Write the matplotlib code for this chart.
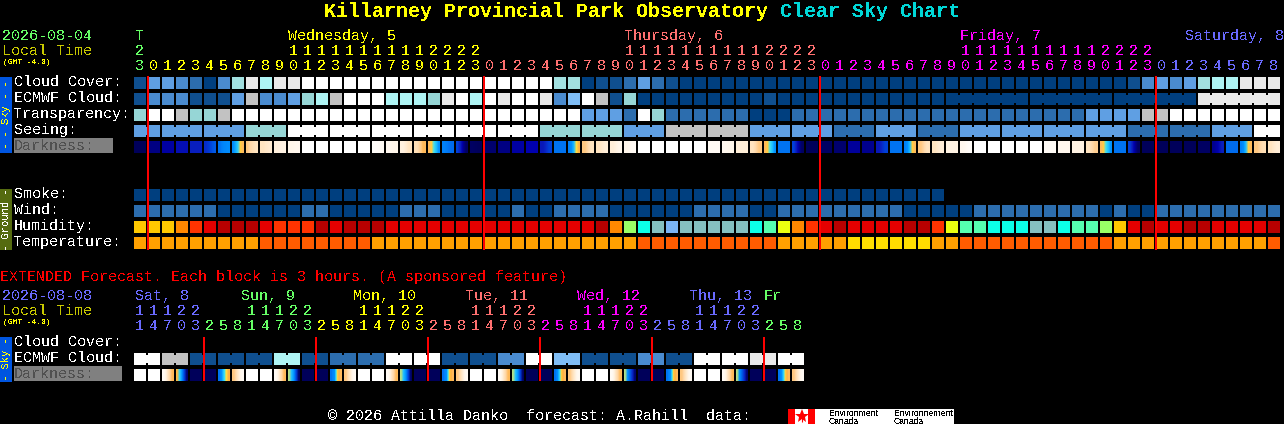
import numpy as np
import matplotlib
matplotlib.use('Agg')
import matplotlib.pyplot as plt
from matplotlib.colors import LinearSegmentedColormap

plt.rcParams['text.antialiased'] = False

# Sky condition colours (index = level used in the lists below)
sky_colors = ['#003f7f', '#0f4f8f', '#2c6dae', '#4a8bcf', '#5f9fe3', '#7fbdf5',
              '#96d6d6', '#a2e0e0', '#c2c2c2', '#e9e9e9', '#ffffff', '#aef4f4']
ground_colors = {'a': '#ffc800', 'b': '#ff8800', 'c': '#ff3300', 'd': '#e40000',
                 'e': '#b80000', 'f': '#ebff10', 'g': '#99ff66', 'h': '#0cffe8',
                 'i': '#55ffb0', 'j': '#85c0c0', 'k': '#7ab4f5',
                 'o': '#ffa000', 'p': '#ff5c00', 'q': '#ffdd00'}

main_hours = [23,
              0, 1, 2, 3, 4, 5, 6, 7, 8, 9, 10, 11, 12, 13, 14, 15, 16, 17, 18, 19, 20, 21, 22, 23,
              0, 1, 2, 3, 4, 5, 6, 7, 8, 9, 10, 11, 12, 13, 14, 15, 16, 17, 18, 19, 20, 21, 22, 23,
              0, 1, 2, 3, 4, 5, 6, 7, 8, 9, 10, 11, 12, 13, 14, 15, 16, 17, 18, 19, 20, 21, 22, 23,
              0, 1, 2, 3, 4, 5, 6, 7, 8]
main_days = ['T', 'Wednesday, 5', 'Thursday, 6', 'Friday, 7', 'Saturday, 8']
main_day_colors = ['#66ff66', '#ffff00', '#ff7070', '#ff00ff', '#6a6aff']

cloud_cover = [1, 4, 4, 3, 2, 0, 3, 7, 9, 11,
               9, 9, 10, 10, 10, 10, 10, 10, 10, 10,
               10, 10, 10, 10, 10, 10, 10, 10, 10, 10,
               7, 7, 0, 1, 1, 2, 4, 2, 1, 0,
               0, 0, 0, 0, 0, 0, 0, 0, 0, 0,
               0, 0, 0, 0, 0, 0, 0, 0, 0, 0,
               0, 0, 0, 0, 0, 0, 0, 0, 0, 0,
               0, 1, 3, 4, 3, 4, 7, 11, 11, 9,
               9, 9]
# hourly first, then the longer ECMWF periods
ecmwf_cloud = [1, 3, 3, 3, 1, 1, 1, 4, 8, 3,
               3, 4, 6, 11, 8, 10, 10, 10, 11, 11,
               11, 6, 9, 10, 11, 10, 9, 10, 10, 9,
               3, 5, 10, 8, 1, 6, 0, 0, 0, 0,
               0, 0, 0, 0, 0, 1, 0, 0, 0, 0,
               0, 0, 0, 0, 0, 0, 0, 0,
               0, 0, 0, 9]
ecmwf_spans = [1] * 58 + [6, 6, 6, 6]
transparency = [6, 10, 10, 8, 6, 6, 8, 10, 10, 10,
                10, 10, 10, 10, 10, 10, 10, 10, 10, 10,
                10, 10, 10, 10, 10, 10, 10, 10, 10, 10,
                10, 10, 4, 4, 4, 2, 10, 6, 2, 2,
                2, 2, 2, 2, 0, 0, 0, 2, 2, 2,
                2, 2, 2, 2, 2, 2, 2, 2, 2, 2,
                2, 2, 2, 2, 2, 2, 2, 2, 4, 4,
                4, 4, 8, 8, 10, 10, 10, 10, 10, 10,
                10, 10]
seeing = [4, 4, 4, 6, 10, 10, 10, 10, 10, 10, 6, 6, 4, 8, 8, 4, 4, 2, 4, 2, 4, 4, 4, 4, 2, 2, 4, 10]
seeing_spans = [2] + [3] * 26 + [2]
# darkness: values along each block, 0 is daylight and 1 is full dark
darkness = [[1.0], [.92], [.87], [.82], [.78], [.74, .70, .66], [.62, .58, .56], [.56, .52, .48, .38, .33],
            [.30, .25, .22, .20], [.20, .17], [.14, .12], [.10, .08],
            [0], [0], [0], [0], [0], [.03, .05], [.08, .10], [.13, .20], [.22, .33],
            [.33, .38, .45, .50, .55], [.60, .63], [.70, .78, .90, .98], [.98, 1.0],
            [.95], [.92], [.87], [.85], [.80, .70], [.62], [.60, .55, .50, .40, .35],
            [.30, .20], [.20, .15], [.15, .10], [.10, .05],
            [0], [0], [0], [0], [0], [.05], [.08, .10], [.15], [.20, .30],
            [.33, .38, .45, .50, .55], [.62], [.70, .85, .98], [1.0], [.98], [.95], [.88],
            [.90], [.80, .70], [.62], [.60, .55, .50, .38, .33], [.30, .20], [.20, .15], [.12], [.08, .03],
            [0], [0], [0], [0], [0], [.04], [.08], [.12], [.20, .28],
            [.33, .38, .45, .50, .55], [.62], [.70, .85, .98], [1.0], [1.0], [1.0], [1.0], [.98],
            [.90, .85, .78], [.63], [.60, .55, .50, .38, .33], [.30, .22], [.20, .15]]
smoke = [0] * 58
wind = [2, 2, 2, 2, 2, 2, 0, 0, 0, 0,
        0, 0, 2, 2, 0, 0, 0, 0, 0, 2,
        2, 2, 0, 0, 0, 0, 0, 2, 0, 0,
        2, 2, 2, 2, 0, 0, 0, 0, 0, 0,
        2, 2, 2, 2, 0, 0, 2, 2, 2, 2,
        2, 2, 2, 2, 2, 0, 0, 0, 0, 0,
        2, 2, 2, 2, 2, 2, 2, 2, 2, 0,
        2, 0, 0, 2, 2, 2, 2, 2, 2, 2,
        2, 2]
humidity = list('aaabcdeeed' 'cccedeeedd' 'dddddddddd' 'dddebghjkj' 'jjjjhifbcd'
                'eddddeecfi' 'ihhhjjhiig' 'adeddeeddd' 'de')
temperature = list('ooooooooop' 'pppppppooo' 'oooooooooo' 'oooooopppp' 'ppppppoooo'
                   'oqqqqqqoop' 'pppppppppp' 'oooooooooo' 'op')

# Extended forecast, one block is 3 hours
ext_hours = [11, 14, 17, 20, 23,
             2, 5, 8, 11, 14, 17, 20, 23,
             2, 5, 8, 11, 14, 17, 20, 23,
             2, 5, 8, 11, 14, 17, 20, 23,
             2, 5, 8, 11, 14, 17, 20, 23,
             2, 5, 8, 11, 14, 17, 20, 23,
             2, 5, 8]
ext_days = ['Sat, 8', 'Sun, 9', 'Mon, 10', 'Tue, 11', 'Wed, 12', 'Thu, 13', 'Fr']
ext_day_colors = ['#6a6aff', '#66ff66', '#ffff00', '#ff7070', '#ff00ff', '#6a6aff', '#66ff66']
ext_cloud = [10, 8, 1, 1, 1, 11, 1, 2, 2, 10, 10, 1, 1, 3, 10, 5, 1, 1, 3, 1, 10, 10, 9, 10]
ext_spans = [2] * 24
ext_darkness = [[0], [0], [.05, .2, .33], [.36, .47, .55, .7, .95], [1.0], [1.0], [.62, .52, .42, .35], [.3, .18, .06],
                [0], [0], [.05, .2, .33], [.42, .5, .55, .7, .98], [1.0], [1.0], [.62, .55, .38, .33], [.3, .18, .06],
                [0], [0], [.05, .2, .33], [.42, .5, .55, .7, .98], [1.0], [1.0], [.62, .55, .38, .33], [.3, .18, .06],
                [0], [0], [.05, .2, .33], [.42, .5, .55, .7, .98], [1.0], [1.0], [.62, .52, .38, .33], [.3, .18, .06],
                [0], [0], [.05, .2, .33], [.42, .55, .65, .75, .95], [1.0], [1.0], [.62, .55, .38, .33], [.3, .18, .06],
                [0], [0], [.05, .2, .33], [.42, .55, .65, .75, .95], [1.0], [1.0], [.62, .52, .38, .33], [.3, .18, .06]]

dark_cmap = LinearSegmentedColormap.from_list('darkness', [
    (0, '#ffffff'), (.05, '#fffaf4'), (.10, '#fff6ea'), (.15, '#ffeed8'), (.20, '#ffe4c0'),
    (.25, '#ffd8a8'), (.30, '#ffc880'), (.35, '#ffb040'), (.40, '#ffe040'), (.45, '#40e0f0'),
    (.50, '#20c0ff'), (.55, '#0090ff'), (.60, '#0080f8'), (.65, '#0060e8'), (.70, '#0040d8'),
    (.75, '#0828c8'), (.80, '#0818b8'), (.85, '#0000b0'), (.90, '#000090'), (.95, '#000070'),
    (1, '#00005a')])

MONO = 'Liberation Mono'
X0, STEP, BLOCK = 134, 14, 12

fig = plt.figure(figsize=(12.84, 4.24), dpi=100, facecolor='black')
ax = fig.add_axes([0, 0, 1, 1])
ax.set_xlim(0, 1284)
ax.set_ylim(424, 0)
ax.axis('off')


def label(x, y, s, color='white', size=10.8, **kw):
    ax.text(x, y, s, color=color, fontsize=size, family=MONO, va='baseline', **kw)


def blocks(top, colors, spans=None):
    # one square per column, columns of the same period are joined by a bridge
    if spans is None:
        spans = [1] * len(colors)
    i = 0
    for color, span in zip(colors, spans):
        xs = X0 + STEP * (i + np.arange(span))
        ax.bar(xs, [BLOCK] * span, width=BLOCK, bottom=top, color=color, align='edge',
               linewidth=0, antialiased=False)
        if span > 1:
            ax.bar(xs[:-1] + BLOCK, [BLOCK - 4] * (span - 1), width=STEP - BLOCK, bottom=top + 2,
                   color=color, align='edge', linewidth=0, antialiased=False)
        i += span


def dark_blocks(top, rows):
    for i, vals in enumerate(rows):
        x = X0 + STEP * i
        ax.imshow([vals], extent=(x, x + BLOCK, top + BLOCK, top), cmap=dark_cmap, vmin=0, vmax=1,
                  aspect='auto', interpolation='bilinear')


def hour_labels(hours, day_colors, y_tens, y_ones):
    day = 0
    for i, h in enumerate(hours):
        if i > 0 and h < hours[i - 1]:
            day += 1
        x = X0 + STEP * i + BLOCK / 2 - 0.5
        if h >= 10:
            label(x, y_tens, str(h // 10), day_colors[day], ha='center')
        label(x, y_ones, str(h % 10), day_colors[day], ha='center')


def sky(levels):
    return [sky_colors[v] for v in levels]


def ground(keys):
    return [ground_colors[k] for k in keys]


# title
label(324, 17, 'Killarney Provincial Park Observatory', '#ffff00', size=14.4, fontweight='bold')
label(780, 17, 'Clear Sky Chart', '#00d8d8', size=14.4, fontweight='bold')

# header of the main chart
label(2, 40, '2026-08-04', main_day_colors[0])
label(2, 55, 'Local Time', '#c8c800')
label(3, 64, '(GMT -4.0)', '#ffff00', size=5.7)
label(136, 40, main_days[0], main_day_colors[0])
label(288, 40, main_days[1], main_day_colors[1])
label(624, 40, main_days[2], main_day_colors[2])
label(960, 40, main_days[3], main_day_colors[3])
label(1185, 40, main_days[4], main_day_colors[4])
hour_labels(main_hours, main_day_colors, 55, 70)

# side bars
ax.bar(0, 76, width=12, bottom=77, color='#0055e0', align='edge', linewidth=0)
ax.bar(0, 61, width=12, bottom=189, color='#556b10', align='edge', linewidth=0)
ax.bar(0, 45, width=12, bottom=337, color='#0055e0', align='edge', linewidth=0)
ax.text(6, 115, '- - Sky - -', color='#ffff00', fontsize=7.6, family=MONO, rotation=90, ha='center', va='center')
ax.text(6, 219.5, '- Ground -', color='white', fontsize=7.6, family=MONO, rotation=90, ha='center', va='center')
ax.text(6, 359, '- Sky -', color='#ffff00', fontsize=7.6, family=MONO, rotation=90, ha='center', va='center')

# sky rows
label(14, 86, 'Cloud Cover:')
label(14, 102, 'ECMWF Cloud:')
label(14, 118, 'Transparency:')
label(14, 134, 'Seeing:')
ax.bar(14, 15, width=99, bottom=138, color='#808080', align='edge', linewidth=0)
label(14, 150, 'Darkness:', '#505050')
blocks(77, sky(cloud_cover))
blocks(93, sky(ecmwf_cloud), ecmwf_spans)
blocks(109, sky(transparency))
blocks(125, sky(seeing), seeing_spans)
dark_blocks(141, darkness)

# ground rows
label(14, 198, 'Smoke:')
label(14, 214, 'Wind:')
label(14, 230, 'Humidity:')
label(14, 246, 'Temperature:')
blocks(189, sky(smoke))
blocks(205, sky(wind))
blocks(221, ground(humidity))
blocks(237, ground(temperature))

# midnight lines
for i, h in enumerate(main_hours):
    if h == 0:
        ax.vlines(X0 + STEP * i, 76, 250, color='#ff0000', linewidth=1.44, zorder=5)

# extended forecast
label(0, 281, 'EXTENDED Forecast. Each block is 3 hours. (A sponsored feature)', '#ff0000')
label(2, 300, '2026-08-08', ext_day_colors[0])
label(2, 315, 'Local Time', '#c8c800')
label(3, 324, '(GMT -4.0)', '#ffff00', size=5.7)
for name, col, x in zip(ext_days, ext_day_colors, [135, 241, 353, 465, 577, 689, 764]):
    label(x, 300, name, col)
hour_labels(ext_hours, ext_day_colors, 315, 330)
label(14, 346, 'Cloud Cover:')
label(14, 362, 'ECMWF Cloud:')
ax.bar(14, 15, width=108, bottom=366, color='#808080', align='edge', linewidth=0)
label(14, 378, 'Darkness:', '#505050')
blocks(353, sky(ext_cloud), ext_spans)
dark_blocks(369, ext_darkness)
for i, h in enumerate(ext_hours):
    if i > 0 and h < ext_hours[i - 1]:
        ax.vlines(X0 + STEP * i, 337, 381, color='#ff0000', linewidth=1.44, zorder=5)

# footer and flag
label(328, 420, '\u00a9 2026 Attilla Danko  forecast: A.Rahill  data:')
ax.bar(788, 15, width=166, bottom=409, color='white', align='edge', linewidth=0)
ax.bar(788, 15, width=7, bottom=409, color='#ff0000', align='edge', linewidth=0)
ax.bar(808, 15, width=7, bottom=409, color='#ff0000', align='edge', linewidth=0)
ax.plot(801.5, 416, marker='*', markersize=10, color='#ff0000', markeredgewidth=0)
ax.vlines(801.5, 416, 422, color='#ff0000', linewidth=0.8)
for x, word in [(829, 'Environment'), (894, 'Environnement')]:
    ax.text(x, 416, word, color='black', fontsize=6.2, family='Liberation Sans', va='baseline')
    ax.text(x, 424, 'Canada', color='black', fontsize=6.2, family='Liberation Sans', va='baseline')

fig.savefig('out.png', dpi=100, facecolor='black')
